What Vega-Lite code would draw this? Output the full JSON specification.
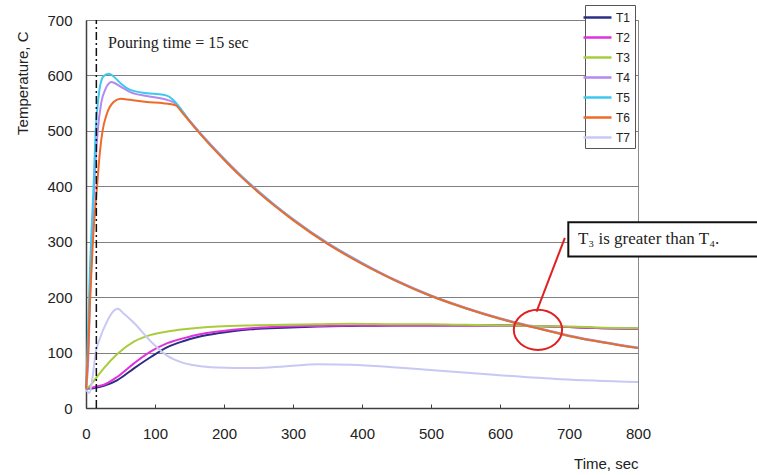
{
  "$schema": "https://vega.github.io/schema/vega-lite/v6.json",
  "width": 552,
  "height": 388,
  "padding": {"left": 86, "top": 20, "right": 119, "bottom": 67},
  "autosize": {"type": "none"},
  "background": "white",
  "config": {
    "view": {"stroke": "#8a8a8a", "strokeWidth": 1},
    "font": "Liberation Sans",
    "legend": {
      "orient": "none",
      "legendX": 499,
      "legendY": -15,
      "strokeColor": "#555555",
      "fillColor": "white",
      "padding": 4,
      "rowPadding": 5,
      "symbolType": "M-2,0H2",
      "symbolSize": 196,
      "symbolStrokeWidth": 2.5,
      "labelFontSize": 12,
      "labelColor": "#222222",
      "labelOffset": 10
    }
  },
  "datasets": {
    "series": [
      {"t": 0, "T": 36, "s": "T1"}, {"t": 5, "T": 35, "s": "T1"}, {"t": 12, "T": 36, "s": "T1"}, {"t": 26, "T": 40, "s": "T1"}, {"t": 45, "T": 50, "s": "T1"}, {"t": 70, "T": 72, "s": "T1"}, {"t": 94, "T": 92, "s": "T1"}, {"t": 118, "T": 110, "s": "T1"}, {"t": 142, "T": 121, "s": "T1"}, {"t": 165, "T": 129, "s": "T1"}, {"t": 191, "T": 135, "s": "T1"}, {"t": 215, "T": 139, "s": "T1"}, {"t": 239, "T": 142, "s": "T1"}, {"t": 287, "T": 145, "s": "T1"}, {"t": 336, "T": 147, "s": "T1"}, {"t": 384, "T": 148, "s": "T1"}, {"t": 450, "T": 149, "s": "T1"}, {"t": 500, "T": 149, "s": "T1"}, {"t": 550, "T": 149, "s": "T1"}, {"t": 600, "T": 149, "s": "T1"}, {"t": 650, "T": 148, "s": "T1"}, {"t": 700, "T": 146, "s": "T1"}, {"t": 750, "T": 144, "s": "T1"}, {"t": 800, "T": 143, "s": "T1"},

      {"t": 0, "T": 36, "s": "T2"}, {"t": 5, "T": 36, "s": "T2"}, {"t": 12, "T": 38, "s": "T2"}, {"t": 26, "T": 42, "s": "T2"}, {"t": 45, "T": 56, "s": "T2"}, {"t": 70, "T": 81, "s": "T2"}, {"t": 94, "T": 102, "s": "T2"}, {"t": 118, "T": 117, "s": "T2"}, {"t": 142, "T": 126, "s": "T2"}, {"t": 165, "T": 133, "s": "T2"}, {"t": 191, "T": 138, "s": "T2"}, {"t": 239, "T": 144, "s": "T2"}, {"t": 287, "T": 147, "s": "T2"}, {"t": 336, "T": 148, "s": "T2"}, {"t": 384, "T": 149, "s": "T2"}, {"t": 450, "T": 149, "s": "T2"}, {"t": 500, "T": 149, "s": "T2"}, {"t": 550, "T": 149, "s": "T2"}, {"t": 600, "T": 149, "s": "T2"}, {"t": 650, "T": 148, "s": "T2"}, {"t": 700, "T": 146, "s": "T2"}, {"t": 750, "T": 144, "s": "T2"}, {"t": 800, "T": 143, "s": "T2"},

      {"t": 0, "T": 36, "s": "T3"}, {"t": 5, "T": 39, "s": "T3"}, {"t": 12, "T": 50, "s": "T3"}, {"t": 26, "T": 72, "s": "T3"}, {"t": 45, "T": 97, "s": "T3"}, {"t": 70, "T": 120, "s": "T3"}, {"t": 94, "T": 132, "s": "T3"}, {"t": 118, "T": 138, "s": "T3"}, {"t": 142, "T": 142, "s": "T3"}, {"t": 191, "T": 147, "s": "T3"}, {"t": 239, "T": 149, "s": "T3"}, {"t": 287, "T": 150, "s": "T3"}, {"t": 336, "T": 151, "s": "T3"}, {"t": 384, "T": 152, "s": "T3"}, {"t": 450, "T": 151, "s": "T3"}, {"t": 500, "T": 151, "s": "T3"}, {"t": 550, "T": 150, "s": "T3"}, {"t": 600, "T": 149, "s": "T3"}, {"t": 650, "T": 148, "s": "T3"}, {"t": 700, "T": 147, "s": "T3"}, {"t": 750, "T": 145, "s": "T3"}, {"t": 800, "T": 144, "s": "T3"},

      {"t": 0, "T": 35, "s": "T4"}, {"t": 3, "T": 80, "s": "T4"}, {"t": 6, "T": 200, "s": "T4"}, {"t": 9, "T": 300, "s": "T4"}, {"t": 12, "T": 400, "s": "T4"}, {"t": 17, "T": 500, "s": "T4"}, {"t": 22, "T": 550, "s": "T4"}, {"t": 28, "T": 575, "s": "T4"}, {"t": 37, "T": 588, "s": "T4"}, {"t": 50, "T": 580, "s": "T4"}, {"t": 64, "T": 570, "s": "T4"}, {"t": 88, "T": 563, "s": "T4"}, {"t": 108, "T": 559, "s": "T4"}, {"t": 120, "T": 555, "s": "T4"}, {"t": 130, "T": 549, "s": "T4"}, {"t": 140, "T": 534, "s": "T4"}, {"t": 150, "T": 519, "s": "T4"}, {"t": 175, "T": 483, "s": "T4"}, {"t": 200, "T": 450, "s": "T4"}, {"t": 225, "T": 419, "s": "T4"}, {"t": 250, "T": 391, "s": "T4"}, {"t": 275, "T": 365, "s": "T4"}, {"t": 300, "T": 341, "s": "T4"}, {"t": 350, "T": 298, "s": "T4"}, {"t": 400, "T": 262, "s": "T4"}, {"t": 450, "T": 230, "s": "T4"}, {"t": 500, "T": 203, "s": "T4"}, {"t": 550, "T": 181, "s": "T4"}, {"t": 600, "T": 162, "s": "T4"}, {"t": 650, "T": 146, "s": "T4"}, {"t": 700, "T": 131, "s": "T4"}, {"t": 750, "T": 119, "s": "T4"}, {"t": 800, "T": 109, "s": "T4"},

      {"t": 0, "T": 35, "s": "T5"}, {"t": 2, "T": 100, "s": "T5"}, {"t": 4, "T": 180, "s": "T5"}, {"t": 6, "T": 260, "s": "T5"}, {"t": 8, "T": 320, "s": "T5"}, {"t": 11, "T": 400, "s": "T5"}, {"t": 14, "T": 500, "s": "T5"}, {"t": 18, "T": 560, "s": "T5"}, {"t": 25, "T": 598, "s": "T5"}, {"t": 33, "T": 603, "s": "T5"}, {"t": 40, "T": 598, "s": "T5"}, {"t": 50, "T": 586, "s": "T5"}, {"t": 64, "T": 574, "s": "T5"}, {"t": 88, "T": 568, "s": "T5"}, {"t": 112, "T": 565, "s": "T5"}, {"t": 120, "T": 562, "s": "T5"}, {"t": 126, "T": 556, "s": "T5"}, {"t": 136, "T": 542, "s": "T5"}, {"t": 150, "T": 518, "s": "T5"}, {"t": 175, "T": 482, "s": "T5"}, {"t": 200, "T": 449, "s": "T5"}, {"t": 225, "T": 418, "s": "T5"}, {"t": 250, "T": 390, "s": "T5"}, {"t": 275, "T": 364, "s": "T5"}, {"t": 300, "T": 340, "s": "T5"}, {"t": 350, "T": 297, "s": "T5"}, {"t": 400, "T": 261, "s": "T5"}, {"t": 450, "T": 229, "s": "T5"}, {"t": 500, "T": 202, "s": "T5"}, {"t": 550, "T": 180, "s": "T5"}, {"t": 600, "T": 161, "s": "T5"}, {"t": 650, "T": 145, "s": "T5"}, {"t": 700, "T": 130, "s": "T5"}, {"t": 750, "T": 118, "s": "T5"}, {"t": 800, "T": 108, "s": "T5"},

      {"t": 0, "T": 35, "s": "T6"}, {"t": 3, "T": 100, "s": "T6"}, {"t": 6, "T": 200, "s": "T6"}, {"t": 10, "T": 300, "s": "T6"}, {"t": 16, "T": 400, "s": "T6"}, {"t": 20, "T": 460, "s": "T6"}, {"t": 24, "T": 500, "s": "T6"}, {"t": 30, "T": 530, "s": "T6"}, {"t": 40, "T": 552, "s": "T6"}, {"t": 50, "T": 558, "s": "T6"}, {"t": 64, "T": 556, "s": "T6"}, {"t": 88, "T": 552, "s": "T6"}, {"t": 112, "T": 550, "s": "T6"}, {"t": 130, "T": 546, "s": "T6"}, {"t": 140, "T": 532, "s": "T6"}, {"t": 150, "T": 517, "s": "T6"}, {"t": 175, "T": 481, "s": "T6"}, {"t": 200, "T": 448, "s": "T6"}, {"t": 225, "T": 417, "s": "T6"}, {"t": 250, "T": 389, "s": "T6"}, {"t": 275, "T": 363, "s": "T6"}, {"t": 300, "T": 339, "s": "T6"}, {"t": 350, "T": 296, "s": "T6"}, {"t": 400, "T": 260, "s": "T6"}, {"t": 450, "T": 229, "s": "T6"}, {"t": 500, "T": 202, "s": "T6"}, {"t": 550, "T": 180, "s": "T6"}, {"t": 600, "T": 161, "s": "T6"}, {"t": 650, "T": 145, "s": "T6"}, {"t": 700, "T": 130, "s": "T6"}, {"t": 750, "T": 118, "s": "T6"}, {"t": 800, "T": 108, "s": "T6"},

      {"t": 0, "T": 33, "s": "T7"}, {"t": 5, "T": 27, "s": "T7"}, {"t": 10, "T": 60, "s": "T7"}, {"t": 14, "T": 100, "s": "T7"}, {"t": 20, "T": 125, "s": "T7"}, {"t": 30, "T": 155, "s": "T7"}, {"t": 40, "T": 175, "s": "T7"}, {"t": 46, "T": 179, "s": "T7"}, {"t": 55, "T": 170, "s": "T7"}, {"t": 70, "T": 153, "s": "T7"}, {"t": 94, "T": 120, "s": "T7"}, {"t": 118, "T": 94, "s": "T7"}, {"t": 142, "T": 81, "s": "T7"}, {"t": 170, "T": 75, "s": "T7"}, {"t": 191, "T": 73, "s": "T7"}, {"t": 239, "T": 72, "s": "T7"}, {"t": 287, "T": 75, "s": "T7"}, {"t": 336, "T": 79, "s": "T7"}, {"t": 384, "T": 78, "s": "T7"}, {"t": 450, "T": 73, "s": "T7"}, {"t": 494, "T": 69, "s": "T7"}, {"t": 591, "T": 60, "s": "T7"}, {"t": 688, "T": 52, "s": "T7"}, {"t": 800, "T": 47, "s": "T7"}
    ]
  },
  "layer": [
    {
      "data": {"name": "series"},
      "mark": {"type": "line", "strokeWidth": 2, "interpolate": "monotone"},
      "encoding": {
        "x": {
          "field": "t", "type": "quantitative",
          "scale": {"domain": [0, 800], "nice": false},
          "axis": {
            "values": [0, 100, 200, 300, 400, 500, 600, 700, 800],
            "grid": false, "labelFlush": false,
            "domainColor": "#404040", "domainWidth": 1.5,
            "tickColor": "#404040", "tickSize": -4,
            "labelPadding": 22, "labelFontSize": 15, "labelColor": "#222222",
            "title": "Time, sec", "titleFontSize": 15, "titleFontWeight": "normal", "titleColor": "#222222",
            "titleAnchor": "end", "titleBaseline": "middle", "titleY": 55
          }
        },
        "y": {
          "field": "T", "type": "quantitative",
          "scale": {"domain": [0, 700], "nice": false},
          "axis": {
            "values": [0, 100, 200, 300, 400, 500, 600, 700],
            "grid": true, "gridColor": "#808080", "gridWidth": 1,
            "ticks": false, "labelFlush": false,
            "domainColor": "#404040", "domainWidth": 1.5,
            "labelPadding": 14, "labelFontSize": 15, "labelColor": "#222222",
            "title": "Temperature, C", "titleFontSize": 15, "titleFontWeight": "normal", "titleColor": "#222222",
            "titleAngle": -90, "titleAlign": "right", "titleBaseline": "middle",
            "titleX": -64, "titleY": 11
          }
        },
        "color": {
          "field": "s", "type": "nominal",
          "scale": {
            "domain": ["T1", "T2", "T3", "T4", "T5", "T6", "T7"],
            "range": ["#2b2e83", "#dd33dd", "#a8cc3c", "#b388f0", "#3cc8f0", "#ee6a2a", "#c8c8f4"]
          },
          "legend": {"title": null}
        }
      }
    },
    {
      "data": {"values": [{"t": 15}]},
      "mark": {"type": "rule", "color": "#111111", "strokeWidth": 1.5, "strokeDash": [8, 3, 2, 3]},
      "encoding": {
        "x": {"field": "t", "type": "quantitative"},
        "y": {"datum": 0},
        "y2": {"datum": 700}
      }
    },
    {
      "data": {"values": [{"t": 32, "T": 659, "label": "Pouring time = 15 sec"}]},
      "mark": {"type": "text", "font": "Liberation Serif", "fontSize": 16, "align": "left", "baseline": "middle", "color": "#222222"},
      "encoding": {
        "x": {"field": "t", "type": "quantitative"},
        "y": {"field": "T", "type": "quantitative"},
        "text": {"field": "label"}
      }
    },
    {
      "data": {"values": [{"t": 694, "T": 307, "t2": 653, "T2": 174}]},
      "mark": {"type": "rule", "color": "#e02020", "strokeWidth": 2},
      "encoding": {
        "x": {"field": "t", "type": "quantitative"},
        "y": {"field": "T", "type": "quantitative"},
        "x2": {"field": "t2"},
        "y2": {"field": "T2"}
      }
    },
    {
      "data": {"values": [{"t": 655, "T": 141}]},
      "mark": {"type": "point", "shape": "M-1,0A1,0.83,0,1,0,1,0A1,0.83,0,1,0,-1,0", "size": 2333, "filled": false, "stroke": "#e02020", "strokeWidth": 2, "opacity": 1},
      "encoding": {
        "x": {"field": "t", "type": "quantitative"},
        "y": {"field": "T", "type": "quantitative"}
      }
    },
    {
      "data": {"values": [{"t": 699, "t2": 990, "T": 335, "T2": 273.5}]},
      "mark": {"type": "rect", "fill": "white", "stroke": "#111111", "strokeWidth": 2},
      "encoding": {
        "x": {"field": "t", "type": "quantitative"},
        "x2": {"field": "t2"},
        "y": {"field": "T", "type": "quantitative"},
        "y2": {"field": "T2"}
      }
    },
    {
      "data": {"values": [{"t": 713, "T": 304, "label": "T₃ is greater than T₄."}]},
      "mark": {"type": "text", "font": "Liberation Serif", "fontSize": 17, "align": "left", "baseline": "middle", "color": "#222222"},
      "encoding": {
        "x": {"field": "t", "type": "quantitative"},
        "y": {"field": "T", "type": "quantitative"},
        "text": {"field": "label"}
      }
    }
  ]
}
